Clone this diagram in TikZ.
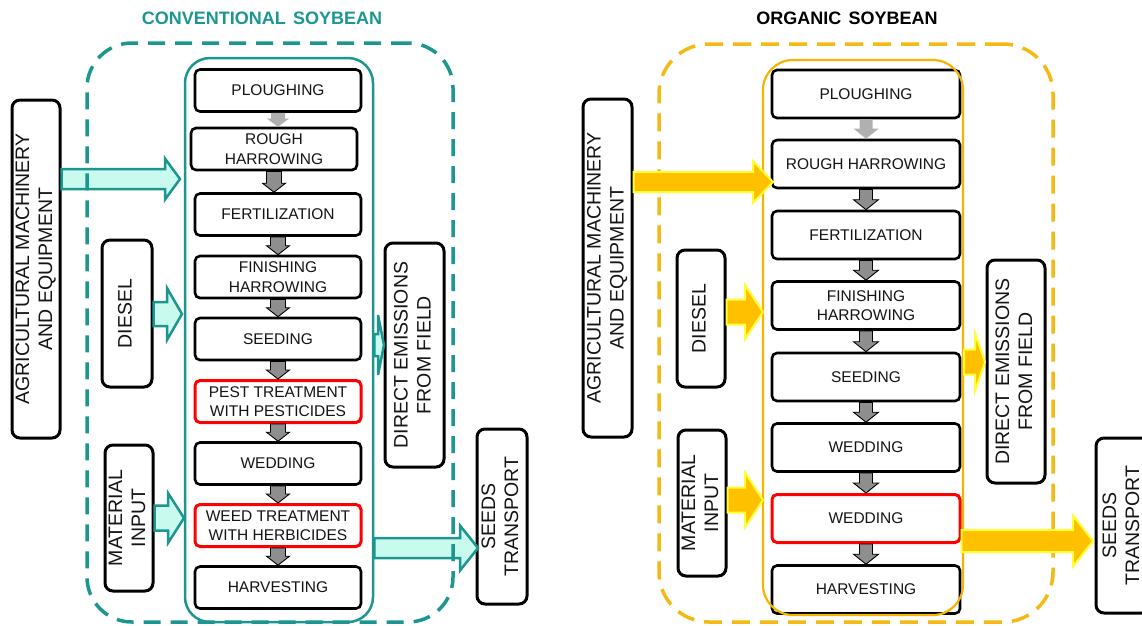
\documentclass[tikz,border=0pt]{standalone}
\usepackage{fontspec}
\setmainfont{Liberation Sans}
\usepackage{graphicx}
\usetikzlibrary{calc}
\definecolor{tealc}{HTML}{1B9690}
\definecolor{mint}{HTML}{C8FAEE}
\definecolor{gold}{HTML}{F5B914}
\definecolor{goldin}{HTML}{F6B300}
\definecolor{afill}{HTML}{FFC000}
\definecolor{aline}{HTML}{FFFF33}
\definecolor{gfill}{HTML}{8E8E8E}
\definecolor{glight}{HTML}{B0B0B0}
\definecolor{redb}{HTML}{FF0000}
% horizontal block arrow: style, from, tip, shaft half, head half, head length
\newcommand\harrow[6]{\path[#1] let \p1=#2, \p2=#3 in (\x1,\y2+#4) -- (\x2-#6,\y2+#4) -- (\x2-#6,\y2+#5) -- (\x2,\y2) -- (\x2-#6,\y2-#5) -- (\x2-#6,\y2-#4) -- (\x1,\y2-#4) -- cycle;}
% vertical block arrow (downwards): style, from, tip, shaft half, head half, head length
\newcommand\varrow[6]{\path[#1] let \p1=#2, \p2=#3 in (\x1-#4,\y1) -- (\x1-#4,\y2+#6) -- (\x1-#5,\y2+#6) -- (\x1,\y2) -- (\x1+#5,\y2+#6) -- (\x1+#4,\y2+#6) -- (\x1+#4,\y1) -- cycle;}
\newcommand\sidetext[1]{\rotatebox{90}{\begin{tabular}{@{}c@{}}#1\end{tabular}}}
\begin{document}
\begin{tikzpicture}[x=1pt,y=-1pt,
  proc/.style={draw=black, line width=2.6pt, rounded corners=5pt, fill=white,
    minimum height=42pt, minimum width=166pt, inner sep=0pt, align=center,
    font=\fontsize{15.5pt}{19.5pt}\selectfont, text=black!92},
  procR/.style={proc, minimum height=48pt, minimum width=188pt},
  redbox/.style={draw=redb, line width=3pt},
  side/.style={draw=black, line width=3pt, rounded corners=8pt, fill=white,
    inner sep=0pt, font=\fontsize{19.5pt}{23pt}\selectfont, text=black!92},
  tealarrow/.style={fill=mint, draw=tealc, line width=2.5pt},
  goldarrow/.style={fill=afill, draw=aline, line width=2pt},
  garrow/.style={fill=gfill, draw=black, line width=0.9pt},
  garrowlight/.style={fill=glight},
  outerL/.style={draw=tealc, line width=3.5pt, dash pattern=on 17pt off 10pt, rounded corners=45pt, inner sep=0pt},
  outerR/.style={draw=gold, line width=3.5pt, dash pattern=on 18pt off 10pt, rounded corners=50pt, inner sep=0pt},
  innerL/.style={draw=tealc, line width=2.5pt, rounded corners=25pt, inner sep=0pt},
  innerR/.style={draw=goldin, line width=2.2pt, rounded corners=30pt, inner sep=0pt},
  titlestyle/.style={font=\fontsize{18pt}{20pt}\selectfont\bfseries}
]
\useasboundingbox (0,0) rectangle (1142,625);

% ---------------- titles ----------------
\node[titlestyle, text=tealc] (titleL) at (262,18) {CONVENTIONAL\hspace{0.4em}SOYBEAN};
\node[titlestyle, text=black] (titleR) at (847,18) {ORGANIC\hspace{0.4em}SOYBEAN};

% ---------------- LEFT PANEL ----------------
\node[side, minimum width=48pt, minimum height=338pt] (agriL) at (36,269) {\sidetext{AGRICULTURAL MACHINERY\\AND EQUIPMENT}};
\node[side, minimum width=50pt, minimum height=147pt] (dieselL) at (127,313.5) {\sidetext{DIESEL}};
\node[side, minimum width=48pt, minimum height=146pt] (matL) at (129,518) {\sidetext{MATERIAL\\INPUT}};
\node[side, minimum width=59pt, minimum height=224pt] (directL) at (414.5,355) {\sidetext{DIRECT EMISSIONS\\FROM FIELD}};
\node[side, minimum width=50pt, minimum height=175pt] (seedsL) at (502,516.5) {\sidetext{SEEDS\\TRANSPORT}};

\coordinate (tAL) at (180,179);
\coordinate (tDL) at (182,314);
\coordinate (tML) at (184,518);
\coordinate (tEL) at (384,345);
\coordinate (tSL) at (478,548);

\node[innerL, minimum width=188pt, minimum height=564pt] (frameL) at (279,340) {};

\harrow{tealarrow}{(agriL.east |- tAL)}{(tAL)}{10pt}{20.5pt}{15pt}
\harrow{tealarrow}{(dieselL.east |- tDL)}{(tDL)}{12pt}{26pt}{15pt}
\harrow{tealarrow}{(matL.east |- tML)}{(tML)}{12.5pt}{25pt}{16pt}
\harrow{tealarrow}{(frameL.east |- tEL)}{(tEL)}{11pt}{30pt}{6pt}
\harrow{tealarrow}{(frameL.east |- tSL)}{(tSL)}{10pt}{22.5pt}{18pt}

\node[outerL, minimum width=366pt, minimum height=579pt] (boundL) at (270,332.5) {};

\node[proc] (plL) at (278,90.5) {PLOUGHING};
\node[proc] (rhL) at (274,149) {ROUGH\\HARROWING};
\node[proc] (feL) at (278,214.5) {FERTILIZATION};
\node[proc] (fhL) at (278,277) {FINISHING\\HARROWING};
\node[proc] (seL) at (278,339) {SEEDING};
\node[proc, redbox] (ptL) at (278,401.5) {PEST TREATMENT\\WITH PESTICIDES};
\node[proc] (weL) at (278,463.5) {WEDDING};
\node[proc, redbox] (wtL) at (278,525.5) {WEED TREATMENT\\WITH HERBICIDES};
\node[proc] (haL) at (278,587.5) {HARVESTING};

\varrow{garrowlight}{(plL.south)}{(plL.south |- rhL.north)}{7pt}{11pt}{8pt}
\varrow{garrow}{(rhL.south)}{(rhL.south |- feL.north)}{7.5pt}{11.5pt}{9pt}
\varrow{garrow}{(feL.south)}{(feL.south |- fhL.north)}{7.5pt}{11.5pt}{9pt}
\varrow{garrow}{(fhL.south)}{(fhL.south |- seL.north)}{7.5pt}{11.5pt}{9pt}
\varrow{garrow}{(seL.south)}{(seL.south |- ptL.north)}{7.5pt}{11.5pt}{9pt}
\varrow{garrow}{(ptL.south)}{(ptL.south |- weL.north)}{7.5pt}{11.5pt}{9pt}
\varrow{garrow}{(weL.south)}{(weL.south |- wtL.north)}{7.5pt}{11.5pt}{9pt}
\varrow{garrow}{(wtL.south)}{(wtL.south |- haL.north)}{7.5pt}{11.5pt}{9pt}

% ---------------- RIGHT PANEL ----------------
\node[side, minimum width=49pt, minimum height=338pt] (agriR) at (607.5,268) {\sidetext{AGRICULTURAL MACHINERY\\AND EQUIPMENT}};
\node[side, minimum width=48pt, minimum height=137pt] (dieselR) at (701,318.5) {\sidetext{DIESEL}};
\node[side, minimum width=48pt, minimum height=146pt] (matR) at (702,503) {\sidetext{MATERIAL\\INPUT}};
\node[side, minimum width=58pt, minimum height=223pt] (directR) at (1016,371.5) {\sidetext{DIRECT EMISSIONS\\FROM FIELD}};
\node[side, minimum width=54pt, minimum height=175pt] (seedsR) at (1123,525.5) {\sidetext{SEEDS\\TRANSPORT}};

\node[outerR, minimum width=394pt, minimum height=578pt] (boundR) at (856,333) {};

\node[procR] (plR) at (866,94) {PLOUGHING};
\node[procR] (rhR) at (866,164) {ROUGH HARROWING};
\node[procR] (feR) at (866,235) {FERTILIZATION};
\node[procR] (fhR) at (866,305.5) {FINISHING\\HARROWING};
\node[procR] (seR) at (866,377) {SEEDING};
\node[procR] (weR) at (866,447.5) {WEDDING};
\node[procR, redbox] (wrR) at (866,518.5) {WEDDING};
\node[procR] (haR) at (866,589.5) {HARVESTING};

\node[innerR, minimum width=200pt, minimum height=555pt] (frameR) at (863,337.5) {};

\coordinate (tAR) at (773,182);
\coordinate (tDR) at (763,312);
\coordinate (tMR) at (763,500);
\coordinate (tER) at (985,362);
\coordinate (tSR) at (1093,541);

\harrow{goldarrow}{(agriR.east |- tAR)}{(tAR)}{10pt}{21pt}{20pt}
\harrow{goldarrow}{(dieselR.east |- tDR)}{(tDR)}{12.5pt}{27pt}{18pt}
\harrow{goldarrow}{(matR.east |- tMR)}{(tMR)}{12.5pt}{27.5pt}{18pt}
\harrow{goldarrow}{(frameR.east |- tER)}{(tER)}{12.5pt}{29pt}{10pt}
\harrow{goldarrow}{(wrR.east |- tSR)}{(tSR)}{11pt}{25.5pt}{20pt}

\varrow{garrowlight}{(plR.south)}{(plR.south |- rhR.north)}{6.5pt}{12.5pt}{10pt}
\varrow{garrow}{(rhR.south)}{(rhR.south |- feR.north)}{6.5pt}{12.5pt}{10pt}
\varrow{garrow}{(feR.south)}{(feR.south |- fhR.north)}{6.5pt}{12.5pt}{10pt}
\varrow{garrow}{(fhR.south)}{(fhR.south |- seR.north)}{6.5pt}{12.5pt}{10pt}
\varrow{garrow}{(seR.south)}{(seR.south |- weR.north)}{6.5pt}{12.5pt}{10pt}
\varrow{garrow}{(weR.south)}{(weR.south |- wrR.north)}{6.5pt}{12.5pt}{10pt}
\varrow{garrow}{(wrR.south)}{(wrR.south |- haR.north)}{6.5pt}{12.5pt}{10pt}
\end{tikzpicture}
\end{document}
